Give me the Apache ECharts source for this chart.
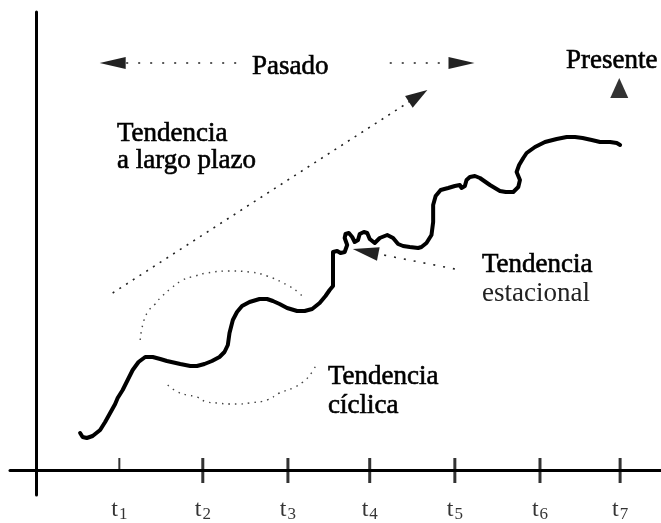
<!DOCTYPE html>
<html>
<head>
<meta charset="utf-8">
<script src="https://cdn.jsdelivr.net/npm/echarts@6/dist/echarts.min.js"></script>
<style>
html, body { margin: 0; padding: 0; background: #fff; }
#chart { width: 661px; height: 523px; }
</style>
</head>
<body>
<div id="chart"></div>
<script>
// serie de tiempo observada: [tiempo, valor]
const serie = [
  [0.53,3.7],[0.56,3.3],[0.61,3.2],[0.68,3.4],[0.77,4.0],[0.83,4.8],[0.89,5.7],[0.95,6.6],
  [0.98,7.2],[1.04,8.0],[1.10,9.0],[1.16,10.0],[1.23,10.8],[1.31,11.3],[1.40,11.3],[1.49,11.1],
  [1.57,10.9],[1.73,10.6],[1.85,10.4],[1.93,10.4],[2.02,10.6],[2.11,10.9],[2.20,11.3],[2.26,11.8],
  [2.30,12.5],[2.32,13.7],[2.36,15.0],[2.41,15.8],[2.47,16.4],[2.56,16.8],[2.68,17.1],[2.77,17.1],
  [2.84,16.9],[2.92,16.6],[3.01,16.2],[3.13,15.9],[3.22,15.9],[3.31,16.1],[3.40,16.7],[3.47,17.4],
  [3.52,18.0],[3.56,18.4],[3.56,20.0],[3.56,21.8],[3.61,21.9],[3.65,21.7],[3.70,21.8],[3.73,22.5],
  [3.70,23.2],[3.71,23.6],[3.75,23.7],[3.79,23.3],[3.82,22.8],[3.86,23.0],[3.88,23.6],[3.93,23.8],
  [3.97,23.7],[4.00,23.1],[4.06,22.7],[4.12,23.2],[4.21,23.5],[4.28,23.2],[4.34,22.6],[4.40,22.4],
  [4.48,22.3],[4.58,22.2],[4.62,22.3],[4.68,22.7],[4.74,23.5],[4.76,24.8],[4.76,26.5],[4.79,27.4],
  [4.85,28.0],[4.94,28.2],[5.02,28.4],[5.08,28.5],[5.10,28.2],[5.12,28.0],[5.14,28.4],[5.16,29.0],
  [5.20,29.3],[5.26,29.4],[5.32,29.2],[5.44,28.5],[5.56,27.9],[5.63,27.8],[5.72,27.8],[5.78,28.3],
  [5.80,29.0],[5.76,29.8],[5.79,30.5],[5.84,31.2],[5.88,31.7],[5.98,32.3],[6.10,32.8],[6.24,33.1],
  [6.36,33.3],[6.46,33.3],[6.55,33.2],[6.66,33.0],[6.76,32.8],[6.88,32.8],[6.96,32.7],[7.00,32.5]
];

// arcos punteados de la tendencia ciclica
const cicloArriba = [
  [1.25,13.0],[1.28,14.5],[1.34,15.8],[1.43,16.6],[1.49,17.2],[1.61,18.1],[1.76,19.0],[1.91,19.4],
  [2.05,19.7],[2.32,19.9],[2.56,19.8],[2.77,19.4],[3.01,18.5],[3.14,17.8],[3.21,17.2]
];
const cicloAbajo = [
  [1.58,8.5],[1.70,7.8],[1.81,7.5],[1.93,7.3],[2.05,6.8],[2.17,6.7],[2.32,6.6],[2.44,6.6],
  [2.56,6.7],[2.77,7.0],[2.92,7.7],[3.08,8.2],[3.20,8.8],[3.31,9.8],[3.37,10.8]
];

// flechas: [inicio, centro de la punta]
const largoPlazo = [[0.92, 17.7], [4.58, 37.4]];
const estacional = [[5.02, 20.1], [3.95, 21.85]];
const pasadoIzq = [[2.40, 40.7], [0.92, 40.7]];
const pasadoDer = [[4.24, 40.7], [5.10, 40.7]];
const presente = [[6.99, 38.2]];

// marcas del eje del tiempo
const ticks = [1, 2, 3.02, 4, 5.02, 6.04, 7];
const tickLabels = ['1', '2', '3', '4', '5', '6', '7'];

const serif = "'Liberation Serif', 'DejaVu Serif', serif";

const arrowLine = (pts, dash, size) => ({
  type: 'line',
  data: [],
  silent: true,
  markLine: {
    silent: true,
    animation: false,
    label: { show: false },
    lineStyle: { color: '#222', width: 1.6, type: dash },
    emphasis: { disabled: true },
    data: [[
      { coord: pts[0], symbol: 'none' },
      { coord: pts[1], symbol: 'triangle', symbolSize: size }
    ]]
  }
});

const textos = [
  { text: 'Pasado', x: 252, y: 67 },
  { text: 'Presente', x: 566, y: 61 },
  { text: 'Tendencia', x: 117, y: 134 },
  { text: 'a largo plazo', x: 117, y: 161 },
  { text: 'Tendencia', x: 482, y: 265 },
  { text: 'estacional', x: 482, y: 294, fill: '#222', stroke: 0 },
  { text: 'Tendencia', x: 328, y: 377 },
  { text: 'cíclica', x: 328, y: 406 }
];

const chart = echarts.init(document.getElementById('chart'));

chart.setOption({
  animation: false,
  backgroundColor: '#fff',
  grid: { left: 10, right: 0, top: 12, bottom: 28 },
  xAxis: {
    type: 'value',
    min: -0.31,
    max: 7.49,
    splitLine: { show: false },
    axisTick: { show: false },
    axisLabel: { show: false },
    axisLine: { onZero: true, lineStyle: { color: '#000', width: 3 } }
  },
  yAxis: {
    type: 'value',
    min: -2.5,
    max: 45.8,
    splitLine: { show: false },
    axisTick: { show: false },
    axisLabel: { show: false },
    axisLine: { onZero: true, lineStyle: { color: '#000', width: 3 } }
  },
  series: [
    {
      type: 'line',
      data: serie,
      symbol: 'none',
      lineStyle: { color: '#000', width: 4, cap: 'round', join: 'round' },
      silent: true
    },
    {
      type: 'line',
      data: cicloArriba,
      symbol: 'none',
      smooth: true,
      lineStyle: { color: '#444', width: 1.4, type: [1.5, 5] },
      silent: true
    },
    {
      type: 'line',
      data: cicloAbajo,
      symbol: 'none',
      smooth: true,
      lineStyle: { color: '#444', width: 1.4, type: [1.5, 5] },
      silent: true
    },
    arrowLine(largoPlazo, [2, 6], [14, 22]),
    arrowLine(estacional, [2, 8], [14, 26]),
    arrowLine(pasadoIzq, [2, 10], [12, 26]),
    arrowLine(pasadoDer, [2, 10], [12, 26]),
    {
      type: 'scatter',
      data: presente,
      symbol: 'triangle',
      symbolSize: [18, 20],
      itemStyle: { color: '#000' },
      silent: true
    },
    {
      // marcas cruzando el eje
      type: 'scatter',
      silent: true,
      data: ticks.map((t, i) => ({
        value: [t, i === 0 ? 0.5 : -0.05],
        symbolSize: i === 0 ? [2, 14] : [3, 25]
      })),
      symbol: 'rect',
      itemStyle: { color: '#000' }
    },
    {
      type: 'scatter',
      silent: true,
      clip: false,
      data: ticks.map(t => [t, 0]),
      symbolSize: 0,
      label: {
        show: true,
        position: 'bottom',
        distance: 27,
        formatter: p => '{t|t}{s|' + tickLabels[p.dataIndex] + '}',
        rich: {
          t: { fontFamily: serif, fontSize: 24, color: '#000', lineHeight: 26, verticalAlign: 'middle' },
          s: { fontFamily: serif, fontSize: 17, color: '#000', lineHeight: 26, verticalAlign: 'bottom', padding: [8, 0, 0, 1] }
        }
      }
    }
  ],
  graphic: textos.map(d => ({
    type: 'text',
    x: d.x,
    y: d.y,
    silent: true,
    style: {
      text: d.text,
      fill: d.fill || '#000',
      stroke: '#000',
      lineWidth: d.stroke === 0 ? 0 : 0.6,
      font: '27px ' + serif,
      align: 'left',
      verticalAlign: 'middle'
    }
  }))
});
</script>
</body>
</html>
